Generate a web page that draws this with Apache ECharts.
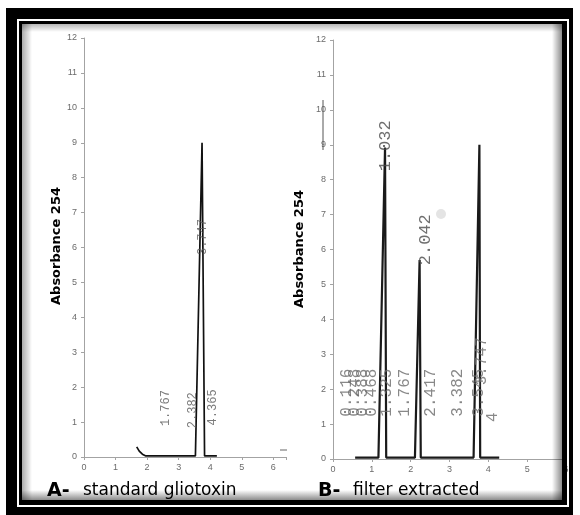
<!DOCTYPE html>
<html>
<head>
<meta charset="utf-8">
<script src="https://cdn.jsdelivr.net/npm/echarts@6/dist/echarts.min.js"></script>
<style>
html,body{margin:0;padding:0;background:#fff;}
#main{width:580px;height:515px;}
</style>
</head>
<body>
<div id="main"></div>
<script>
// ---- Data ----
// Panel A: standard gliotoxin
const aTime = [1.67, 1.75, 1.85, 1.96, 3.53, 3.74, 3.82, 4.21];
const aAbs  = [0.29, 0.17, 0.08, 0.03, 0.03, 9.0, 0.03, 0.03];
// Panel B: filter extracted
const bTime = [0.57, 1.17, 1.34, 1.37, 2.11, 2.23, 2.26, 3.62, 3.77, 3.79, 4.28];
const bAbs  = [0.04, 0.04, 8.92, 0.04, 0.04, 5.7, 0.04, 0.04, 9.0, 0.04, 0.04];

// Retention-time annotations
const aLabelText = ['1.767', '2.382', '4.365', '3.747'];
const aLabelX    = [2.6, 3.44, 4.08, 3.76];
const aLabelY    = [1.4, 1.34, 1.42, 6.3];

const bTopText = ['1.032', '2.042'];
const bTopX    = [1.34, 2.37];
const bTopY    = [8.97, 6.28];

const bLowText = ['0.116', '0.248', '0.388', '0.468', '1.325', '1.767', '2.417', '3.382', '3.545', '3.747', '4'];
const bLowX    = [0.36, 0.57, 0.77, 1.0, 1.39, 1.86, 2.53, 3.22, 3.76, 3.84, 4.12];
const bLowY    = [1.9, 1.9, 1.9, 1.9, 1.9, 1.9, 1.9, 1.9, 1.9, 2.8, 1.2];

const yTicks = [0,1,2,3,4,5,6,7,8,9,10,11,12];
const yTitle = 'Absorbance 254';
const captionA = ['A-', 'standard gliotoxin'];
const captionB = ['B-', 'filter extracted'];

// ---- build ----
const zip = (xs, ys) => xs.map((x, i) => [x, ys[i]]);
const lab = (t, xs, ys) => t.map((s, i) => ({ name: s, value: [xs[i], ys[i]] }));

const axisGray = '#a3a3a3';
const labelGray = '#6b6b6b';

function xAxisCfg(gi, max) {
  return {
    type: 'value', gridIndex: gi, min: 0, max: max, interval: 1,
    axisLine: { show: true, onZero: false, lineStyle: { color: axisGray, width: 1 } },
    axisTick: { show: true, length: 3, lineStyle: { color: axisGray } },
    axisLabel: { fontSize: 9, color: labelGray, margin: 6, fontFamily: 'Liberation Sans',
      formatter: v => (Number.isInteger(v) ? String(v) : '') },
    splitLine: { show: false }
  };
}
function yAxisCfg(gi) {
  return {
    type: 'value', gridIndex: gi, min: yTicks[0], max: yTicks[yTicks.length - 1], interval: 1,
    axisLine: { show: true, lineStyle: { color: axisGray, width: 1 } },
    axisTick: { show: true, length: 3, lineStyle: { color: axisGray } },
    axisLabel: { fontSize: 9, color: labelGray, margin: 7, fontFamily: 'Liberation Sans' },
    splitLine: { show: false }
  };
}
function labelSeries(xi, data, size, color) {
  return {
    type: 'scatter', xAxisIndex: xi, yAxisIndex: xi, symbolSize: 0, silent: true, z: 4,
    data: data,
    label: { show: true, position: 'inside', rotate: 90, formatter: '{b}',
      fontFamily: 'Liberation Mono', fontSize: size, color: color },
    emphasis: { disabled: true }
  };
}

const black = '#000';
function band(x, y, w, h) { return { type: 'rect', z: 100, silent: true, shape: { x, y, width: w, height: h }, style: { fill: black } }; }
function shade(x, y, w, h, dir, a0, a1) {
  const g = dir === 'h'
    ? { type: 'linear', x: 0, y: 0, x2: 1, y2: 0 }
    : { type: 'linear', x: 0, y: 0, x2: 0, y2: 1 };
  g.colorStops = [{ offset: 0, color: 'rgba(0,0,0,' + a0 + ')' }, { offset: 1, color: 'rgba(0,0,0,' + a1 + ')' }];
  return { type: 'rect', z: 99, silent: true, shape: { x, y, width: w, height: h }, style: { fill: g } };
}

const chart = echarts.init(document.getElementById('main'), null, { renderer: 'canvas' });
chart.setOption({
  backgroundColor: '#fff',
  animation: false,
  grid: [
    { left: 84, top: 38, width: 202, height: 419 },
    { left: 333, top: 40, width: 233, height: 419 }
  ],
  xAxis: [xAxisCfg(0, 6.4), xAxisCfg(1, 6)],
  yAxis: [yAxisCfg(0), yAxisCfg(1)],
  series: [
    { type: 'line', xAxisIndex: 0, yAxisIndex: 0, data: zip(aTime, aAbs), showSymbol: false, z: 3,
      lineStyle: { color: '#111', width: 1.7 }, silent: true },
    { type: 'line', xAxisIndex: 1, yAxisIndex: 1, data: zip(bTime, bAbs), showSymbol: false, z: 3,
      lineStyle: { color: '#1a1a1a', width: 2.2 }, silent: true },
    labelSeries(0, lab(aLabelText, aLabelX, aLabelY), 12, '#5a5a5a'),
    labelSeries(1, lab(bTopText, bTopX, bTopY), 17, '#4a4a4a'),
    labelSeries(1, lab(bLowText, bLowX, bLowY), 16, '#6a6a6a')
  ],
  graphic: [
    // y-axis titles
    { type: 'text', z: 50, silent: true, x: 57, y: 246, rotation: Math.PI / 2,
      style: { text: yTitle, font: 'bold 13px "DejaVu Sans"', fill: '#000', align: 'center', verticalAlign: 'middle' } },
    { type: 'text', z: 50, silent: true, x: 300, y: 249, rotation: Math.PI / 2,
      style: { text: yTitle, font: 'bold 13px "DejaVu Sans"', fill: '#000', align: 'center', verticalAlign: 'middle' } },
    // captions
    { type: 'text', z: 50, silent: true, x: 47, y: 491,
      style: { text: captionA[0], font: 'bold 19px "DejaVu Sans"', fill: '#000', align: 'left', verticalAlign: 'middle' } },
    { type: 'text', z: 50, silent: true, x: 83, y: 491,
      style: { text: captionA[1], font: '17px "DejaVu Sans"', fill: '#000', align: 'left', verticalAlign: 'middle' } },
    { type: 'text', z: 50, silent: true, x: 318, y: 491,
      style: { text: captionB[0], font: 'bold 19px "DejaVu Sans"', fill: '#000', align: 'left', verticalAlign: 'middle' } },
    { type: 'text', z: 50, silent: true, x: 353, y: 491,
      style: { text: captionB[1], font: '17px "DejaVu Sans"', fill: '#000', align: 'left', verticalAlign: 'middle' } },
    // small scan artefacts
    { type: 'line', z: 50, silent: true, shape: { x1: 323, y1: 100, x2: 323, y2: 150 }, style: { stroke: '#555', lineWidth: 1 } },
    { type: 'line', z: 50, silent: true, shape: { x1: 280, y1: 450, x2: 287, y2: 450 }, style: { stroke: '#666', lineWidth: 1 } },
    { type: 'circle', z: 50, silent: true, shape: { cx: 441, cy: 214, r: 5 }, style: { fill: '#e4e4e4' } },
    // inner shadow of the framed panel
    shade(22, 24, 10, 476, 'h', 0.32, 0),
    shade(22, 24, 540, 8, 'v', 0.28, 0),
    shade(552, 24, 10, 476, 'h', 0, 0.45),
    shade(22, 490, 540, 10, 'v', 0, 0.45),
    // double black frame
    band(6, 8, 11, 507), band(6, 8, 567, 11), band(569, 8, 4, 507), band(6, 507, 567, 8),
    band(19, 21, 3, 484), band(19, 21, 548, 3), band(562, 21, 5, 484), band(19, 500, 548, 5)
  ]
});
</script>
</body>
</html>
